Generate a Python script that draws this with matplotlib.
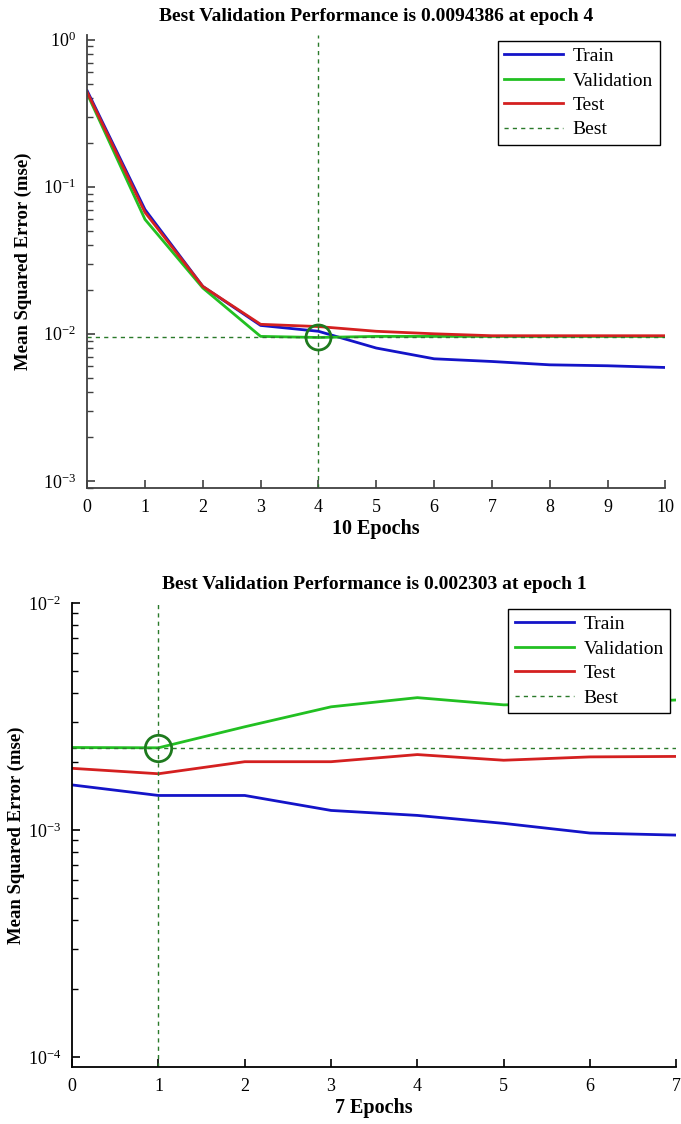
import numpy as np
import matplotlib.pyplot as plt
from matplotlib.ticker import LogLocator, NullFormatter

plt.rcParams['font.family'] = ['Liberation Serif', 'DejaVu Serif']
plt.rcParams['mathtext.fontset'] = 'custom'
plt.rcParams['mathtext.rm'] = 'Liberation Serif'
plt.rcParams['mathtext.it'] = 'Liberation Serif:italic'
plt.rcParams['mathtext.bf'] = 'Liberation Serif:bold'

# run 1: 10 epochs
epochs_a = [0, 1, 2, 3, 4, 5, 6, 7, 8, 9, 10]
train_a = [0.45, 0.070, 0.021, 0.0114, 0.0104, 0.0080, 0.00676, 0.00648, 0.00615, 0.00606, 0.0059]
val_a = [0.43, 0.060, 0.0205, 0.0096, 0.0094386, 0.0096, 0.0096, 0.0096, 0.0096, 0.0096, 0.0096]
test_a = [0.44, 0.067, 0.021, 0.0116, 0.0112, 0.0104, 0.0100, 0.0097, 0.0097, 0.0097, 0.0097]
best_epoch_a = 4
best_perf_a = 0.0094386

# run 2: 7 epochs
epochs_b = [0, 1, 2, 3, 4, 5, 6, 7]
train_b = [0.00158, 0.00142, 0.00142, 0.00122, 0.00116, 0.00107, 0.00097, 0.00095]
val_b = [0.00231, 0.002303, 0.00285, 0.00349, 0.00383, 0.00356, 0.0036, 0.00374]
test_b = [0.00187, 0.00177, 0.00200, 0.00200, 0.00215, 0.00203, 0.00210, 0.00211]
best_epoch_b = 1
best_perf_b = 0.002303

c_train = '#1414c8'
c_val = '#22c022'
c_test = '#d42020'
c_best = '#2a7a2a'

fig = plt.figure(figsize=(6.81, 11.24), dpi=100)


def perf_panel(ax, ep, tr, va, te, best_ep, best_val, ylim, circle_r, spine_col):
    ax.plot(ep, tr, color=c_train, lw=2, label='Train')
    ax.plot(ep, va, color=c_val, lw=2, label='Validation')
    ax.plot(ep, te, color=c_test, lw=2, label='Test')
    ax.axvline(best_ep, color=c_best, lw=1, ls=(0, (3, 3)), label='Best')
    ax.axhline(best_val, color=c_best, lw=1, ls=(0, (3, 3)))
    ax.plot([best_ep], [best_val], 'o', ms=circle_r, mfc='none', mec='#1e7a1e', mew=2)
    ax.set_yscale('log')
    ax.set_xlim(ep[0], ep[-1])
    ax.set_ylim(*ylim)
    ax.set_xticks(ep)
    ax.yaxis.set_major_locator(LogLocator(base=10))
    ax.yaxis.set_minor_locator(LogLocator(base=10, subs=np.arange(2, 10)))
    ax.yaxis.set_minor_formatter(NullFormatter())
    for s in ['top', 'right']:
        ax.spines[s].set_visible(False)
    for s in ['left', 'bottom']:
        ax.spines[s].set_color(spine_col)
        ax.spines[s].set_linewidth(1.3)
    ax.tick_params(which='major', direction='in', length=6, width=1.2,
                   labelsize=13, color=spine_col, pad=8)
    ax.tick_params(which='minor', direction='in', length=4, width=1, color=spine_col)
    ax.set_title(f'Best Validation Performance is {best_val} at epoch {best_ep}',
                 fontsize=14, fontweight='bold', pad=10)
    ax.set_xlabel(f'{ep[-1]} Epochs', fontsize=14.5, fontweight='bold', labelpad=2)
    ax.set_ylabel('Mean Squared Error (mse)', fontsize=13.5, fontweight='bold')
    leg = ax.legend(loc='upper right', fontsize=14, fancybox=False, framealpha=1,
                    edgecolor='black', handlelength=3.0, borderpad=0.35,
                    labelspacing=0.35, handletextpad=0.5, borderaxespad=0.3)
    leg.get_frame().set_linewidth(1.0)


ax1 = fig.add_axes([0.128, 0.566, 0.849, 0.403])
perf_panel(ax1, epochs_a, train_a, val_a, test_a, best_epoch_a, best_perf_a,
           (8.96e-4, 1.08), 18, '#404040')
ax1.yaxis.set_label_coords(-0.095, 0.5)

ax2 = fig.add_axes([0.106, 0.0507, 0.887, 0.4128])
perf_panel(ax2, epochs_b, train_b, val_b, test_b, best_epoch_b, best_perf_b,
           (9.04e-5, 1e-2), 19, 'black')
ax2.yaxis.set_label_coords(-0.078, 0.5)

fig.savefig('out.png', dpi=100)
